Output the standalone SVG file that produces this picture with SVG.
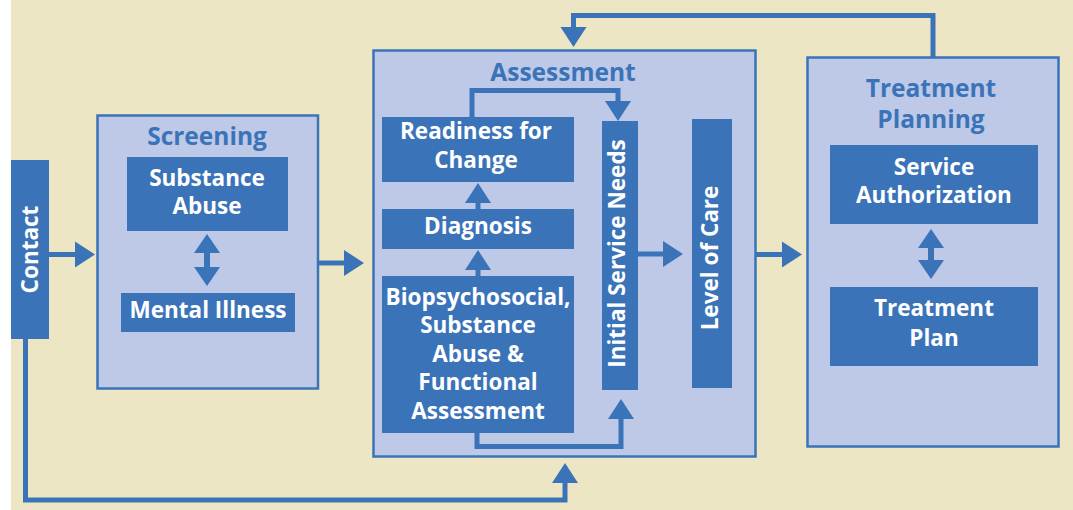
<svg xmlns="http://www.w3.org/2000/svg" width="1073" height="510" viewBox="0 0 1073 510">
<defs>
<style>
.bg{fill:#ECE6C4}
.panel{fill:#BDC9E7;stroke:#3B73B9;stroke-width:2.5}
.box{fill:#3B73B9}
.t{font-family:"Open Sans","Noto Sans",sans-serif;font-weight:bold;font-size:22.5px;fill:#FFFFFF;text-anchor:middle}
.title{font-family:"Open Sans","Noto Sans",sans-serif;font-weight:bold;font-size:24.5px;fill:#3B73B9;text-anchor:middle}
.c{fill:none;stroke:#3B73B9;stroke-width:5;stroke-linejoin:miter}
.d{fill:none;stroke:#3B73B9;stroke-width:6}
</style>
<marker id="ah" viewBox="0 -13 20 26" refX="1" refY="0" markerWidth="20" markerHeight="26" markerUnits="userSpaceOnUse" orient="auto" overflow="visible">
<path d="M0,-13 L20,0 L0,13 Z" fill="#3B73B9"/>
</marker>
<marker id="dh" viewBox="0 -13 19 26" refX="1" refY="0" markerWidth="19" markerHeight="26" markerUnits="userSpaceOnUse" orient="auto-start-reverse" overflow="visible">
<path d="M0,-13 L19,0 L0,13 Z" fill="#3B73B9"/>
</marker>
</defs>
<rect x="0" y="0" width="1073" height="510" fill="#FFFFFF"/>
<rect class="bg" x="11" y="0" width="1062" height="510"/>

<g id="contact">
<rect class="box" x="11" y="160" width="38" height="179"/>
<text class="t" transform="translate(38,249.5) rotate(-90)">Contact</text>
</g>

<g id="screening">
<rect class="panel" x="97.5" y="115.5" width="220.5" height="273"/>
<text class="title" x="207" y="145">Screening</text>
</g>
<g id="substance-abuse">
<rect class="box" x="127" y="157" width="161" height="74"/>
<text class="t" x="207" y="186">Substance</text>
<text class="t" x="207" y="214">Abuse</text>
</g>
<g id="mental-illness">
<rect class="box" x="121" y="293" width="174" height="39"/>
<text class="t" x="208" y="318">Mental Illness</text>
</g>

<g id="assessment">
<rect class="panel" x="373.5" y="50.5" width="382" height="406"/>
<text class="title" x="563" y="81">Assessment</text>
</g>
<g id="readiness">
<rect class="box" x="382" y="117" width="192" height="65"/>
<text class="t" x="476" y="139">Readiness for</text>
<text class="t" x="476" y="168">Change</text>
</g>
<g id="diagnosis">
<rect class="box" x="382" y="209" width="192" height="40"/>
<text class="t" x="478" y="234">Diagnosis</text>
</g>
<g id="biopsychosocial">
<rect class="box" x="382" y="276" width="192" height="157"/>
<text class="t" x="478" y="305">Biopsychosocial,</text>
<text class="t" x="478" y="333">Substance</text>
<text class="t" x="478" y="362">Abuse &amp;</text>
<text class="t" x="478" y="390">Functional</text>
<text class="t" x="478" y="419">Assessment</text>
</g>
<g id="initial-service-needs">
<rect class="box" x="602" y="121" width="36" height="269"/>
<text class="t" transform="translate(625,253.5) rotate(-90)">Initial Service Needs</text>
</g>
<g id="level-of-care">
<rect class="box" x="692" y="119" width="40" height="269"/>
<text class="t" transform="translate(718,258) rotate(-90)">Level of Care</text>
</g>

<g id="treatment-planning">
<rect class="panel" x="807.5" y="57.5" width="251" height="389"/>
<text class="title" x="931" y="97">Treatment</text>
<text class="title" x="931" y="128">Planning</text>
</g>
<g id="service-authorization">
<rect class="box" x="830" y="145" width="208" height="79"/>
<text class="t" x="934" y="175">Service</text>
<text class="t" x="934" y="203">Authorization</text>
</g>
<g id="treatment-plan">
<rect class="box" x="830" y="287" width="208" height="79"/>
<text class="t" x="934" y="316">Treatment</text>
<text class="t" x="934" y="346">Plan</text>
</g>

<g id="connectors">
<path class="c" d="M49,254.5 H76" marker-end="url(#ah)"/>
<path class="c" d="M318,263 H345" marker-end="url(#ah)"/>
<path class="c" d="M756,254.5 H783" marker-end="url(#ah)"/>
<path class="c" d="M933,57 V15.5 H573.5 V28" marker-end="url(#ah)"/>
<path class="c" d="M25.5,339 V500 H565 V482" marker-end="url(#ah)"/>
<path class="c" d="M478,209 V202" marker-end="url(#ah)"/>
<path class="c" d="M478,276 V269" marker-end="url(#ah)"/>
<path class="c" d="M472,117 V90.5 H618 V102" marker-end="url(#ah)"/>
<path class="c" d="M477,433 V446.5 H621 V418" marker-end="url(#ah)"/>
<path class="c" d="M638,254 H664" marker-end="url(#ah)"/>
<path class="d" d="M207,252 V268" marker-start="url(#dh)" marker-end="url(#dh)"/>
<path class="d" d="M931,247 V261" marker-start="url(#dh)" marker-end="url(#dh)"/>
</g>
</svg>
